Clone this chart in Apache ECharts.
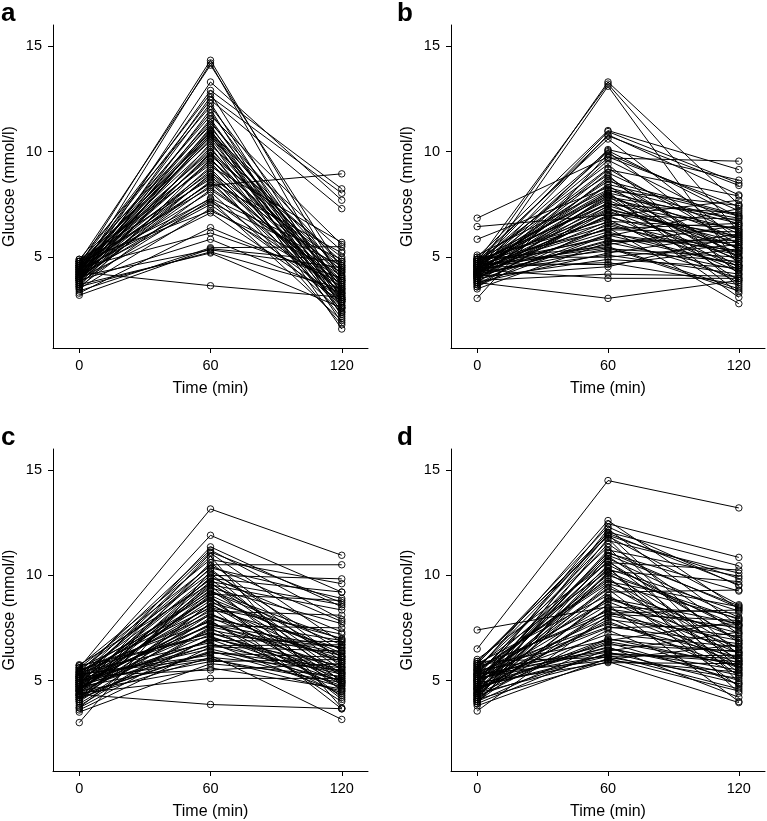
<!DOCTYPE html>
<html>
<head>
<meta charset="utf-8">
<script src="https://cdn.jsdelivr.net/npm/echarts@6/dist/echarts.min.js"></script>
<style>
html,body{margin:0;padding:0;background:#fff;}
#chart{width:767px;height:821px;}
</style>
</head>
<body>
<div id="chart"></div>
<script>
// Time points (min) and tick labels
var times = [0, 60, 120];
var xTicks = [0, 60, 120];
var yTicks = [5, 10, 15];
var panelLabels = ['a', 'b', 'c', 'd'];

// Panel a: glucose (mmol/l) at 0, 60, 120 min, one entry per subject
var a0 = [4.6,4.2,4.8,4.0,4.4,4.7,3.9,4.5,4.1,4.9, 3.8,4.3,4.6,4.0,4.4,4.2,4.8,3.7,4.5,4.1, 4.3,4.6,3.9,4.7,4.0,4.4,4.2,4.8,3.6,4.5, 4.1,4.3,4.6,3.9,4.0,4.4,4.7,3.5,4.2,4.5, 4.8,3.8,4.3,4.1,4.6,3.7,4.0,4.4,4.9,3.9, 4.2,4.5,4.0,4.7,3.6,4.3,4.1,4.6,3.8,4.4, 4.2,3.5,4.8,4.0,3.3,4.5,3.9,3.4,3.2,4.1, 3.6,3.7,4.3];
var a60 = [14.33,14.2,14.1,13.3,12.9,12.75,12.6,12.45,12.3,12.15, 12.0,11.85,11.7,11.55,11.45,11.35,11.25,11.15,11.05,11.0, 10.95,10.9,10.85,10.8,10.75,10.7,10.6,10.5,10.4,10.3, 10.2,10.1,10.0,9.95,9.9,9.8,9.7,9.65,9.6,9.5, 9.4,9.3,9.2,9.1,9.0,8.95,8.9,8.8,8.7,8.6, 8.55,8.5,8.4,8.3,8.2,8.1,7.8,7.75,7.7,7.6, 7.5,7.3,7.2,7.1,6.4,6.15,5.85,5.45,5.4,5.35, 5.25,5.2,3.65];
var a120 = [3.9,3.2,4.4,7.7,8.24,3.0,8.03,7.3,2.6,4.1, 2.2,3.5,5.6,2.9,3.3,4.6,2.4,3.7,1.9,3.1, 4.3,2.7,5.3,3.6,2.3,4.0,3.0,1.6,3.4,4.8, 2.8,3.8,2.1,4.5,3.2,5.0,2.6,3.9,4.2,2.9, 3.5,5.7,3.0,2.5,4.7,3.3,1.8,4.4,3.7,2.7, 5.2,3.1,8.95,3.9,4.1,2.4,4.9,3.4,2.0,4.6, 3.0,3.6,4.3,2.9,3.8,4.0,3.3,5.5,4.8,4.5, 3.5,2.6,3.1];

// Panel b
var b0 = [4.5,4.8,4.2,5.0,4.6,4.3,4.9,4.1,4.7,4.4, 3.05,4.6,4.0,4.8,6.85,4.5,4.2,4.9,3.9,4.6, 4.3,5.1,4.1,4.7,4.4,3.8,6.45,4.9,4.2,4.6, 4.0,4.8,4.5,4.3,3.7,4.7,4.1,5.85,4.4,4.9, 4.2,3.6,4.6,4.0,4.8,4.3,3.9,4.5,4.7,4.1, 3.5,4.4,4.9,4.2,4.6,3.8,4.3,5.0,4.0,4.5, 4.7,4.1,3.9,4.4,3.8,4.6,4.2,4.8,4.0,4.3, 4.9,4.5,3.7,4.1,4.6,4.2,4.4,4.8,3.6,4.3];
var b60 = [13.3,13.2,13.1,11.0,10.95,10.8,10.6,10.1,10.05,10.0, 9.9,9.7,9.6,9.4,9.75,9.2,9.0,8.9,8.8,8.6, 8.4,8.2,8.1,8.05,8.0,7.95,7.0,7.9,7.8,7.7, 7.6,7.5,7.4,7.3,7.2,7.1,7.0,8.3,6.9,6.8, 6.7,6.6,6.5,6.4,6.3,6.2,6.1,6.0,5.9,5.8, 5.7,5.6,5.5,5.4,5.3,5.2,5.1,5.0,4.9,4.75, 4.65,4.55,4.2,4.0,3.05,8.15,7.85,7.55,7.25,6.95, 6.65,6.35,6.05,5.75,5.45,9.15,8.45,10.75,7.45,8.7];
var b120 = [7.5,6.2,4.6,9.15,8.5,7.95,5.8,8.65,6.9,5.3, 7.2,9.55,6.5,4.2,7.4,5.6,6.1,3.6,5.0,7.0, 4.5,5.9,3.3,6.6,4.8,5.4,6.8,3.9,6.3,5.2, 4.4,7.1,3.1,5.7,4.9,6.0,4.3,6.7,5.5,3.8, 6.4,4.7,5.1,2.8,6.2,4.6,5.3,7.3,4.0,5.8, 4.4,6.5,3.5,5.0,4.8,6.1,4.2,5.6,4.5,3.7, 5.4,6.0,4.1,4.0,3.9,7.45,6.85,6.3,5.9,7.7, 5.2,6.6,4.6,5.7,3.4,7.9,6.95,8.4,5.45,4.95];

// Panel c
var c0 = [5.6,5.2,4.8,5.4,4.5,5.0,5.7,4.3,5.1,4.7, 3.0,5.5,4.9,4.4,5.3,4.6,5.75,4.1,5.0,4.8, 4.2,5.4,4.5,5.2,4.7,3.7,5.6,4.9,4.3,5.1, 4.6,5.3,4.0,4.8,5.5,4.4,5.0,3.8,4.7,5.2, 4.5,5.7,4.1,4.9,5.4,4.6,3.6,5.1,4.3,4.8, 5.3,4.2,5.0,4.7,3.5,4.5,5.2,4.4,4.34,4.9, 5.6,4.0,5.1,4.6,5.4,4.2,4.8,3.9,5.5,4.7, 5.0,4.3,5.3,4.5,5.2,4.1,4.9,3.7,5.15,4.55];
var c60 = [13.15,11.9,11.35,11.2,11.05,10.9,10.75,10.6,10.5,10.35, 10.2,10.1,10.0,9.9,9.8,9.7,9.6,9.5,9.4,9.3, 9.2,9.1,9.0,8.9,8.8,8.7,8.6,8.5,8.4,8.3, 8.2,8.1,8.0,7.9,7.8,7.7,7.6,7.5,7.4,7.3, 7.2,7.1,7.0,6.9,6.8,6.7,6.6,6.5,6.4,6.3, 6.2,6.1,6.0,5.9,5.8,5.6,5.5,5.1,3.86,9.85, 10.45,9.65,9.25,8.95,8.45,8.15,7.85,7.55,7.25,6.95, 6.65,6.35,6.05,9.55,10.3,8.65,7.65,7.05,11.1,9.05];
var c120 = [10.95,9.2,8.5,7.9,6.8,3.7,9.6,5.9,10.5,8.9, 6.4,4.9,9.83,7.3,5.5,8.6,6.1,4.5,7.7,5.2, 6.7,8.8,4.1,6.3,5.0,7.0,5.8,3.65,6.5,8.1, 4.8,6.0,5.4,6.9,4.6,5.6,7.5,4.3,6.2,5.1, 6.6,4.95,5.7,6.85,4.4,5.3,6.4,5.0,4.7,6.1, 3.15,5.5,4.9,6.0,5.2,4.6,5.8,5.1,3.66,9.2, 7.8,5.3,6.95,4.2,7.2,5.9,4.0,6.3,5.4,4.75, 6.7,5.6,4.5,8.35,5.65,4.85,6.55,5.35,8.7,6.15];

// Panel d
var d0 = [6.5,5.5,4.9,5.8,4.3,5.2,4.6,5.9,4.1,5.3, 4.8,5.6,4.4,5.0,3.9,5.4,4.7,6.0,4.2,5.1, 4.5,5.7,4.0,5.2,4.8,5.5,4.3,5.0,4.6,5.8, 4.1,5.3,4.9,7.4,4.4,5.6,4.7,3.55,5.1,4.5, 5.4,4.2,5.0,4.6,5.7,4.0,5.2,4.8,3.9,5.5, 4.3,5.1,4.7,5.9,4.4,5.3,4.1,4.9,5.6,4.5, 5.0,4.2,5.4,4.8,5.2,4.0,5.7,4.6,5.3,4.4, 5.1,4.7,3.8,5.8,4.9,4.3,5.5,4.1,5.0,4.6,5.3];
var d60 = [14.5,12.6,12.45,12.3,12.2,12.05,11.95,11.85,11.75,11.65, 11.5,11.35,11.2,11.05,10.9,10.8,10.7,10.6,10.5,10.4, 10.3,10.2,10.1,10.0,9.9,9.7,9.55,9.4,9.2,9.05, 8.9,8.75,8.6,8.5,8.4,8.3,8.2,8.1,8.0,7.9, 7.7,7.4,7.2,7.0,6.9,6.8,6.7,6.6,6.5,6.4, 6.3,6.2,6.15,6.1,6.0,5.95,5.9,5.85,11.9,11.1, 10.65,10.15,9.8,9.35,8.85,8.45,8.15,7.8,7.55,6.95, 6.55,6.25,6.05,12.0,10.95,10.35,9.6,8.95,7.5,6.85,6.35];
var d120 = [13.2,8.4,10.85,9.5,7.6,10.45,6.2,8.6,5.5,10.1, 7.2,4.9,9.95,9.25,6.8,8.0,5.9,10.25,7.4,4.4, 8.3,9.7,6.5,7.9,5.2,8.5,6.0,7.0,9.3,5.6, 7.7,6.3,4.0,8.2,7.5,5.8,8.35,6.9,5.3,7.1, 6.1,4.8,6.6,5.7,7.8,5.0,6.4,4.2,5.5,7.3, 5.9,4.6,6.2,5.1,6.7,5.4,3.95,5.8,9.85,8.45, 6.9,7.6,6.3,4.7,7.25,5.95,7.85,5.6,6.75,6.35, 5.25,6.05,4.5,9.55,8.55,5.35,7.95,6.55,7.65,5.75,4.85];

var panels = [[a0, a60, a120], [b0, b60, b120], [c0, c60, c120], [d0, d60, d120]];

var FONT = 'Liberation Sans, Arial, Helvetica, sans-serif';
var gridPos = [
  {left: 53, top: 25, width: 315, height: 323},
  {left: 451, top: 25, width: 314, height: 323},
  {left: 53, top: 449, width: 315, height: 323},
  {left: 451, top: 449, width: 314, height: 323}
];
var labelPos = [[1, 1], [397, 1], [1, 425], [397, 425]];

var grids = [], xAxes = [], yAxes = [], series = [], graphics = [];
gridPos.forEach(function (g, i) {
  grids.push({left: g.left, top: g.top, width: g.width, height: g.height, containLabel: false});
  xAxes.push({
    type: 'value', gridIndex: i, min: -12, max: 132,
    name: 'Time (min)', nameLocation: 'middle', nameGap: 33,
    nameTextStyle: {fontFamily: FONT, fontSize: 16, color: '#000'},
    axisLine: {show: true, onZero: false, lineStyle: {color: '#000', width: 1}},
    axisTick: {show: true, length: 5, lineStyle: {color: '#000', width: 1}, customValues: xTicks},
    axisLabel: {fontFamily: FONT, fontSize: 14.5, color: '#000', margin: 10, customValues: xTicks},
    splitLine: {show: false}
  });
  yAxes.push({
    type: 'value', gridIndex: i, min: 0.7, max: 16,
    name: 'Glucose (mmol/l)', nameLocation: 'middle', nameGap: 35,
    nameTextStyle: {fontFamily: FONT, fontSize: 16, color: '#000'},
    axisLine: {show: true, onZero: false, lineStyle: {color: '#000', width: 1}},
    axisTick: {show: true, length: 5, lineStyle: {color: '#000', width: 1}, customValues: yTicks},
    axisLabel: {fontFamily: FONT, fontSize: 14.5, color: '#000', margin: 11, customValues: yTicks},
    splitLine: {show: false}
  });
  graphics.push({
    type: 'text', left: labelPos[i][0], top: labelPos[i][1],
    style: {text: panelLabels[i], font: 'bold 26px ' + FONT, fill: '#000'}
  });
  var p = panels[i];
  for (var j = 0; j < p[0].length; j++) {
    series.push({
      type: 'line', xAxisIndex: i, yAxisIndex: i, silent: true,
      data: [[times[0], p[0][j]], [times[1], p[1][j]], [times[2], p[2][j]]],
      symbol: 'circle', symbolSize: 6.5,
      itemStyle: {color: 'rgba(0,0,0,0)', borderColor: '#000', borderWidth: 0.9},
      lineStyle: {color: '#000', width: 1},
      emphasis: {disabled: true}
    });
  }
});

var chart = echarts.init(document.getElementById('chart'), null, {renderer: 'canvas'});
chart.setOption({
  animation: false,
  backgroundColor: '#fff',
  grid: grids, xAxis: xAxes, yAxis: yAxes, series: series, graphic: graphics
});
</script>
</body>
</html>
